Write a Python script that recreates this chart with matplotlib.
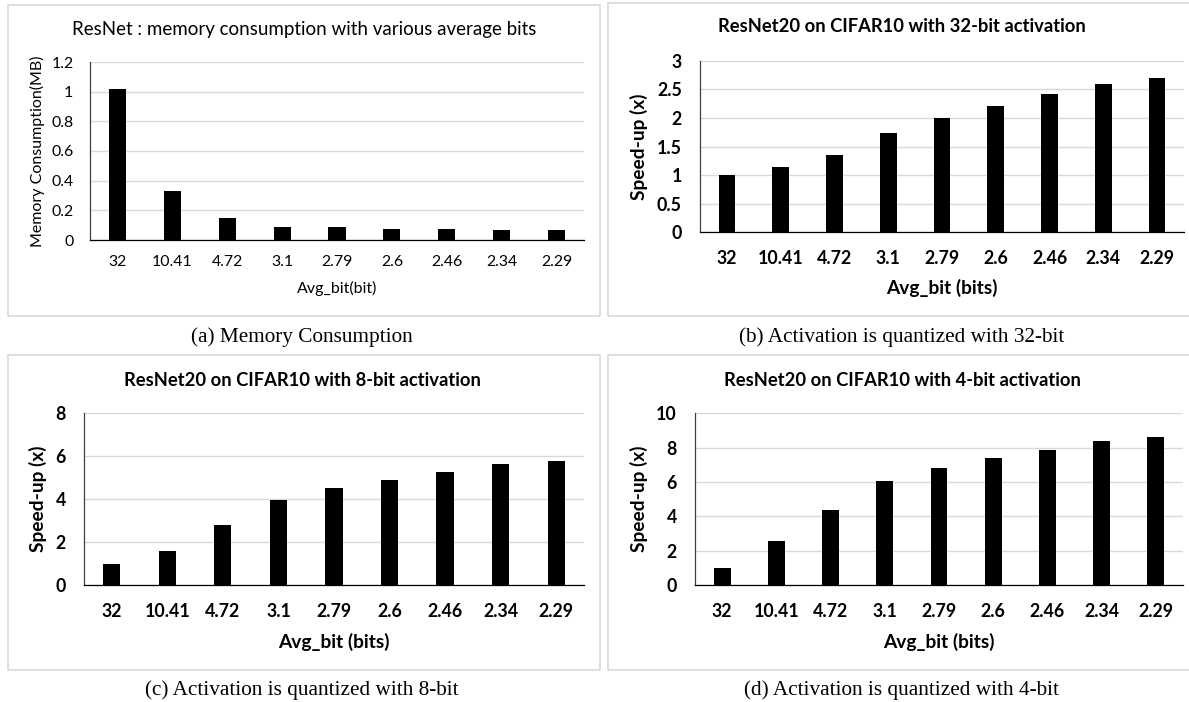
import matplotlib
matplotlib.use("Agg")
import matplotlib.pyplot as plt
from matplotlib.patches import Rectangle

# average bit-width per configuration (x categories shared by all panels)
avg_bits = ["32", "10.41", "4.72", "3.1", "2.79", "2.6", "2.46", "2.34", "2.29"]

memory_mb = [1.02, 0.33, 0.15, 0.09, 0.085, 0.075, 0.075, 0.065, 0.065]
speedup_32bit = [1.0, 1.15, 1.35, 1.73, 1.99, 2.21, 2.42, 2.60, 2.69]
speedup_8bit = [1.0, 1.6, 2.8, 3.96, 4.5, 4.91, 5.28, 5.62, 5.78]
speedup_4bit = [1.0, 2.56, 4.35, 6.05, 6.8, 7.38, 7.88, 8.38, 8.62]

W, H = 1189, 702
fig = plt.figure(figsize=(W / 100, H / 100), dpi=100)

SANS = "Lato"
SERIF = "Liberation Serif"
GRID = "#d9d9d9"


def px_axes(left, top, right, bottom):
    return fig.add_axes([left / W, 1 - bottom / H, (right - left) / W, (bottom - top) / H])


def frame(left, top, right, bottom):
    fig.patches.append(Rectangle((left / W, 1 - bottom / H), (right - left) / W, (bottom - top) / H,
                                 transform=fig.transFigure, fill=False, edgecolor=GRID, lw=1.2))


def bar_panel(ax, values, ylim, step, title, xlabel, ylabel, bold, title_xy, xlab_y, ylab_x):
    weight = "bold" if bold else "normal"
    tsize = 12.8 if bold else 11.4
    lsize = 13.8 if bold else 11.5
    x = range(len(avg_bits))
    ax.bar(x, values, width=0.31, color="black", zorder=3)
    ax.set_xlim(-0.5, len(avg_bits) - 0.5)
    ax.set_ylim(0, ylim)
    ticks = [i * step for i in range(int(round(ylim / step)) + 1)]
    ax.set_yticks(ticks)
    ax.set_yticklabels([f"{t:g}" for t in ticks], fontfamily=SANS, fontsize=tsize, fontweight=weight)
    ax.set_xticks(list(x))
    ax.set_xticklabels(avg_bits, fontfamily=SANS, fontsize=tsize, fontweight=weight)
    ax.tick_params(length=0, pad=13 if bold else 11)
    ax.tick_params(axis="y", pad=13 if bold else 12)
    ax.grid(axis="y", color=GRID, lw=1, zorder=0)
    for s in ("top", "right"):
        ax.spines[s].set_visible(False)
    ax.spines["left"].set_color("#404040")
    ax.spines["bottom"].set_color("black")
    ax.spines["left"].set_linewidth(0.9)
    ax.spines["bottom"].set_linewidth(0.9)
    fig.text(title_xy[0] / W, 1 - title_xy[1] / H, title, ha="center", va="center",
             fontfamily=SANS, fontsize=13.2 if bold else 13.5, fontweight=weight)
    ax_box = ax.get_position()
    fig.text((ax_box.x0 + ax_box.x1) / 2, 1 - xlab_y / H, xlabel, ha="center", va="center",
             fontfamily=SANS, fontsize=lsize, fontweight=weight)
    fig.text(ylab_x / W, (ax_box.y0 + ax_box.y1) / 2, ylabel, ha="center", va="center", rotation=90,
             fontfamily=SANS, fontsize=lsize, fontweight=weight)


# frames around each sub-figure
frame(7.5, 5, 600, 316)
frame(607.5, 3, 1193, 316)
frame(7.5, 355, 600, 670)
frame(607.5, 355, 1193, 670)

ax_a = px_axes(90, 62, 584, 240)
bar_panel(ax_a, memory_mb, 1.2, 0.2, "ResNet : memory consumption with various average bits",
          "Avg_bit(bit)", "Memory Consumption(MB)", False, (304, 30), 288, 37)

ax_b = px_axes(700, 60.7, 1184, 232.3)
bar_panel(ax_b, speedup_32bit, 3, 0.5, "ResNet20 on CIFAR10 with 32-bit activation",
          "Avg_bit (bits)", "Speed-up (x)", True, (902, 27), 288, 639)

ax_c = px_axes(84, 413.3, 584, 585)
bar_panel(ax_c, speedup_8bit, 8, 2, "ResNet20 on CIFAR10 with 8-bit activation",
          "Avg_bit (bits)", "Speed-up (x)", True, (302, 380), 642, 38)

ax_d = px_axes(695, 413.3, 1183, 585)
bar_panel(ax_d, speedup_4bit, 10, 2, "ResNet20 on CIFAR10 with 4-bit activation",
          "Avg_bit (bits)", "Speed-up (x)", True, (902, 380), 642, 639)

# sub-figure captions
captions = [
    ("(a) Memory Consumption", 302, 337),
    ("(b) Activation is quantized with 32-bit", 902, 337),
    ("(c) Activation is quantized with 8-bit", 302, 690),
    ("(d) Activation is quantized with 4-bit", 902, 690),
]
for text, cx, cy in captions:
    fig.text(cx / W, 1 - cy / H, text, ha="center", va="center", fontfamily=SERIF, fontsize=15.3)

fig.savefig("out.png", dpi=100)
